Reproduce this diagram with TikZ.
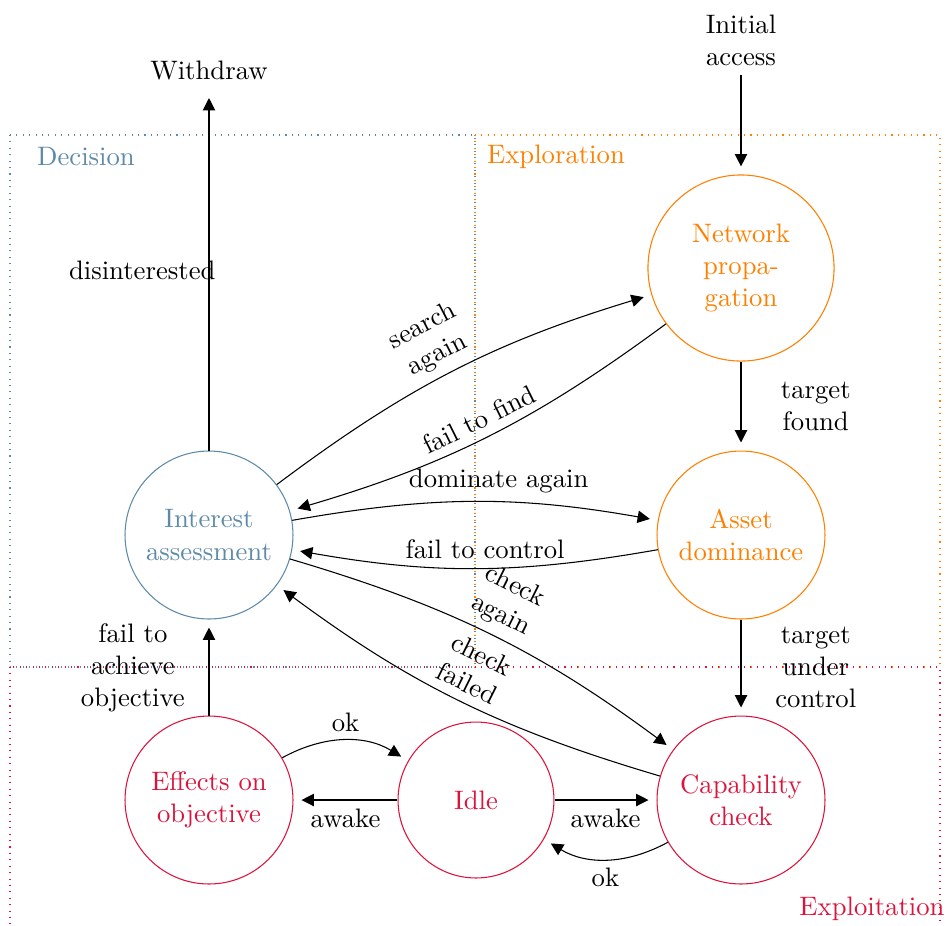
\documentclass[tikz,border=0pt]{standalone}
\usetikzlibrary{arrows.meta}
\definecolor{decblue}{RGB}{93,138,168}
\definecolor{exporange}{RGB}{255,128,0}
\definecolor{explred}{RGB}{220,20,60}
\begin{document}
\begin{tikzpicture}[x=0.3745pt,y=-0.3745pt,
  >={Triangle[length=4.6pt,width=4.6pt]},
  state/.style={circle,draw,inner sep=0pt,align=center},
  dec/.style={state,draw=decblue,text=decblue},
  expo/.style={state,draw=exporange,text=exporange},
  expl/.style={state,draw=explred,text=explred},
  conn/.style={->,shorten >=3pt},
  lbl/.style={align=center},
  regbox/.style={dotted}
]
\useasboundingbox (0,0) rectangle (949,925);
% regions
\draw[regbox,decblue] (10,135) rectangle (475,667);
\draw[regbox,exporange] (475,135) rectangle (940,667);
\draw[regbox,explred] (10,667) rectangle (940,928);
\node[text=decblue] (decl) at (86,157) {Decision};
\node[text=exporange] (expol) at (556,157) {Exploration};
\node[text=explred] (expll) at (872,909) {Exploitation};
% states
\node[dec,minimum size=62.9pt] (I) at (209,535) {Interest\\assessment};
\node[expo,minimum size=69.7pt] (N) at (741,268) {Network\\propa-\\gation};
\node[expo,minimum size=62.9pt] (A) at (741,535) {Asset\\dominance};
\node[expl,minimum size=62.9pt] (E) at (209,800) {Effects on\\objective};
\node[expl,minimum size=58.4pt] (D) at (476,800) {Idle};
\node[expl,minimum size=62.9pt] (C) at (741,800) {Capability\\check};
\node[lbl] (W) at (209,71) {Withdraw};
\node[lbl] (S) at (741,40) {Initial\\access};
% connectors
\draw[conn] (I) -- node[midway,xshift=-25pt] {disinterested} (W);
\draw[conn] (S) -- (N);
\draw[conn] (N) -- node[midway,xshift=28pt,align=center] {target\\found} (A);
\draw[conn] (A) -- node[midway,xshift=28pt,align=center] {target\\under\\control} (C);
\draw[conn] (I) to[bend left=10] node[pos=0.48,sloped,above,align=center] {search\\again} (N);
\draw[conn] (N) to[bend left=10] node[midway,sloped,above] {fail to find} (I);
\draw[conn] (I) to[bend left=10] node[pos=0.57,above] {dominate again} (A);
\draw[conn] (A) to[bend left=10] node[pos=0.47,above] {fail to control} (I);
\draw[conn] (I) to[bend left=10] node[pos=0.5,sloped,above,align=center] {check\\again} (C);
\draw[conn] (C) to[bend left=10] node[midway,sloped,above,align=center] {check\\failed} (I);
\draw[conn] (E) -- node[midway,xshift=-28.5pt,align=center] {fail to\\achieve\\objective} (I);
\draw[conn] (E) to[bend left=30] node[above] {ok} (D);
\draw[conn] (D) -- node[below] {awake} (E);
\draw[conn] (D) -- node[below] {awake} (C);
\draw[conn] (C) to[bend left=30] node[below] {ok} (D);
\end{tikzpicture}
\end{document}
